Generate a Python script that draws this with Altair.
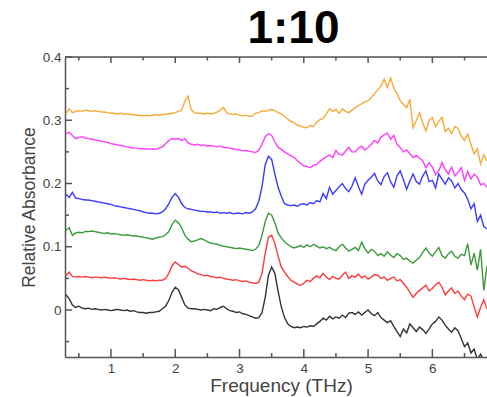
import altair as alt
import pandas as pd

freq = [
    0.30, 0.35, 0.40, 0.45, 0.50, 0.55, 0.60, 0.65, 0.70, 0.75,
    0.80, 0.85, 0.90, 0.95, 1.00, 1.05, 1.10, 1.15, 1.20, 1.25,
    1.30, 1.35, 1.40, 1.45, 1.50, 1.55, 1.60, 1.65, 1.70, 1.75,
    1.80, 1.85, 1.90, 1.95, 2.00, 2.05, 2.10, 2.15, 2.20, 2.25,
    2.30, 2.35, 2.40, 2.45, 2.50, 2.55, 2.60, 2.65, 2.70, 2.75,
    2.80, 2.85, 2.90, 2.95, 3.00, 3.05, 3.10, 3.15, 3.20, 3.25,
    3.30, 3.35, 3.40, 3.45, 3.50, 3.55, 3.60, 3.65, 3.70, 3.75,
    3.80, 3.85, 3.90, 3.95, 4.00, 4.05, 4.10, 4.15, 4.20, 4.25,
    4.30, 4.35, 4.40, 4.45, 4.50, 4.55, 4.60, 4.65, 4.70, 4.75,
    4.80, 4.85, 4.90, 4.95, 5.00, 5.05, 5.10, 5.15, 5.20, 5.25,
    5.30, 5.35, 5.40, 5.45, 5.50, 5.55, 5.60, 5.65, 5.70, 5.75,
    5.80, 5.85, 5.90, 5.95, 6.00, 6.05, 6.10, 6.15, 6.20, 6.25,
    6.30, 6.35, 6.40, 6.45, 6.50, 6.55, 6.60, 6.65, 6.70, 6.75,
    6.80, 6.85,
]

black = [
    0.024, 0.018, 0.008, 0.004, 0.006, 0.003, 0.002, 0.003, 0.001, 0.002,
    0.001, 0.000, 0.001, 0.000, -0.001, 0.000, 0.001, 0.000, -0.001, 0.000,
    -0.002, -0.001, -0.003, -0.004, -0.004, -0.005, -0.004, -0.004, -0.003, -0.002,
    0.002, 0.006, 0.015, 0.028, 0.036, 0.032, 0.020, 0.008, 0.003, 0.002,
    0.002, 0.001, 0.000, 0.001, 0.000, -0.001, 0.002, 0.001, 0.004, 0.006,
    0.002, -0.001, -0.002, -0.004, -0.003, -0.006, -0.007, -0.009, -0.011, -0.013,
    -0.012, -0.004, 0.020, 0.055, 0.068, 0.058, 0.030, 0.005, -0.012, -0.022,
    -0.026, -0.028, -0.027, -0.028, -0.026, -0.027, -0.025, -0.026, -0.022, -0.018,
    -0.013, -0.016, -0.010, -0.014, -0.011, -0.013, -0.008, -0.012, -0.005, -0.004,
    -0.007, -0.003, -0.008, -0.004, 0.000, -0.006, -0.009, -0.004, -0.012, -0.016,
    -0.020, -0.017, -0.026, -0.034, -0.042, -0.030, -0.036, -0.022, -0.028, -0.034,
    -0.027, -0.031, -0.037, -0.030, -0.022, -0.018, -0.011, -0.016, -0.024, -0.030,
    -0.035, -0.028, -0.033, -0.045, -0.058, -0.052, -0.068, -0.062, -0.078, -0.070,
    -0.080, -0.076,
]

red = [
    0.054, 0.060, 0.053, 0.052, 0.053, 0.052, 0.053, 0.052, 0.051, 0.052,
    0.052, 0.051, 0.052, 0.051, 0.050, 0.051, 0.050, 0.049, 0.050, 0.049,
    0.048, 0.049, 0.048, 0.047, 0.048, 0.047, 0.046, 0.047, 0.046, 0.047,
    0.047, 0.050, 0.058, 0.070, 0.076, 0.072, 0.068, 0.069, 0.066, 0.062,
    0.060, 0.057, 0.056, 0.054, 0.055, 0.053, 0.052, 0.051, 0.052, 0.050,
    0.049, 0.048, 0.047, 0.048, 0.046, 0.045, 0.046, 0.044, 0.043, 0.042,
    0.044, 0.058, 0.090, 0.115, 0.118, 0.105, 0.085, 0.068, 0.060, 0.053,
    0.047, 0.044, 0.041, 0.039, 0.042, 0.047, 0.045, 0.050, 0.054, 0.051,
    0.058, 0.052, 0.048, 0.053, 0.050, 0.049, 0.055, 0.060, 0.050, 0.054,
    0.052, 0.057, 0.051, 0.054, 0.049, 0.052, 0.056, 0.055, 0.050, 0.052,
    0.047, 0.050, 0.052, 0.046, 0.048, 0.042, 0.036, 0.028, 0.020, 0.026,
    0.031, 0.035, 0.039, 0.030, 0.034, 0.040, 0.044, 0.036, 0.024, 0.030,
    0.035, 0.026, 0.030, 0.022, 0.016, 0.025, 0.022, 0.005, -0.011, 0.004,
    0.016, 0.002,
]

green = [
    0.126, 0.130, 0.118, 0.122, 0.123, 0.122, 0.124, 0.124, 0.125, 0.124,
    0.123, 0.122, 0.121, 0.122, 0.120, 0.121, 0.120, 0.119, 0.118, 0.119,
    0.118, 0.117, 0.117, 0.116, 0.115, 0.114, 0.113, 0.112, 0.114, 0.115,
    0.116, 0.119, 0.124, 0.135, 0.142, 0.138, 0.130, 0.118, 0.112, 0.108,
    0.109, 0.111, 0.113, 0.111, 0.108, 0.106, 0.105, 0.104, 0.102, 0.101,
    0.100, 0.099, 0.098, 0.097, 0.098, 0.097, 0.096, 0.095, 0.094, 0.096,
    0.102, 0.118, 0.140, 0.153, 0.150, 0.138, 0.122, 0.114, 0.108, 0.104,
    0.100, 0.098, 0.100, 0.102, 0.099, 0.103, 0.100, 0.104, 0.101, 0.098,
    0.100, 0.097, 0.099, 0.096, 0.094, 0.100, 0.104, 0.098, 0.093, 0.096,
    0.099, 0.094, 0.107, 0.097, 0.090, 0.096, 0.093, 0.086, 0.089, 0.085,
    0.092, 0.087, 0.083, 0.089, 0.086, 0.080, 0.082, 0.077, 0.074, 0.079,
    0.083, 0.091, 0.098, 0.090, 0.085, 0.092, 0.099, 0.086, 0.082, 0.089,
    0.093, 0.085, 0.082, 0.088, 0.086, 0.105, 0.071, 0.090, 0.063, 0.096,
    0.031, 0.070,
]

blue = [
    0.183, 0.178, 0.186, 0.177, 0.176, 0.175, 0.174, 0.174, 0.173, 0.172,
    0.171, 0.170, 0.169, 0.168, 0.167, 0.165, 0.164, 0.163, 0.162, 0.161,
    0.160, 0.159, 0.158, 0.157, 0.155, 0.154, 0.153, 0.153, 0.152, 0.153,
    0.155, 0.160, 0.168, 0.178, 0.184, 0.178, 0.168, 0.162, 0.160, 0.159,
    0.158, 0.157, 0.156, 0.156, 0.155, 0.155, 0.154, 0.155, 0.153, 0.154,
    0.153, 0.154, 0.152, 0.153, 0.153, 0.152, 0.154, 0.153, 0.155, 0.160,
    0.172, 0.195, 0.230, 0.243, 0.238, 0.215, 0.194, 0.180, 0.168, 0.166,
    0.165, 0.166, 0.164, 0.167, 0.168, 0.166, 0.170, 0.168, 0.173, 0.171,
    0.184, 0.176, 0.194, 0.183, 0.189, 0.195, 0.200, 0.192, 0.187, 0.196,
    0.209, 0.195, 0.183, 0.199, 0.205, 0.210, 0.216, 0.204, 0.198, 0.211,
    0.217, 0.203, 0.194, 0.212, 0.220, 0.206, 0.191, 0.204, 0.215, 0.203,
    0.199, 0.212, 0.220, 0.203, 0.205, 0.193, 0.215, 0.207, 0.199, 0.209,
    0.204, 0.193, 0.200, 0.190, 0.185, 0.175, 0.160, 0.168, 0.140, 0.150,
    0.132, 0.128,
]

magenta = [
    0.279, 0.281, 0.276, 0.271, 0.273, 0.274, 0.272, 0.271, 0.270, 0.269,
    0.268, 0.267, 0.266, 0.265, 0.263, 0.262, 0.261, 0.260, 0.259, 0.258,
    0.257, 0.256, 0.256, 0.255, 0.255, 0.255, 0.254, 0.255, 0.254, 0.256,
    0.258, 0.263, 0.268, 0.271, 0.270, 0.271, 0.268, 0.271, 0.264, 0.262,
    0.261, 0.262, 0.260, 0.261, 0.259, 0.260, 0.259, 0.258, 0.259, 0.257,
    0.257, 0.256, 0.255, 0.254, 0.253, 0.252, 0.252, 0.251, 0.250, 0.249,
    0.253, 0.262, 0.274, 0.279, 0.276, 0.266, 0.257, 0.254, 0.250, 0.247,
    0.244, 0.241, 0.236, 0.232, 0.228, 0.227, 0.225, 0.229, 0.230, 0.235,
    0.239, 0.242, 0.245, 0.241, 0.252, 0.246, 0.245, 0.251, 0.257, 0.250,
    0.250, 0.256, 0.259, 0.253, 0.257, 0.262, 0.268, 0.264, 0.273, 0.277,
    0.280, 0.270, 0.276, 0.262, 0.257, 0.250, 0.253, 0.247, 0.241, 0.244,
    0.240, 0.236, 0.225, 0.233, 0.226, 0.214, 0.220, 0.233, 0.222, 0.215,
    0.226, 0.212, 0.218, 0.225, 0.205, 0.219, 0.207, 0.215, 0.210, 0.198,
    0.200, 0.194,
]

orange = [
    0.310, 0.318, 0.312, 0.314, 0.315, 0.314, 0.316, 0.315, 0.314, 0.315,
    0.314, 0.313, 0.313, 0.312, 0.311, 0.311, 0.310, 0.311, 0.310, 0.310,
    0.309, 0.309, 0.308, 0.308, 0.307, 0.308, 0.307, 0.308, 0.309, 0.308,
    0.309, 0.310, 0.310, 0.311, 0.312, 0.314, 0.316, 0.330, 0.338, 0.316,
    0.312, 0.311, 0.311, 0.310, 0.311, 0.310, 0.311, 0.313, 0.316, 0.320,
    0.312, 0.310, 0.309, 0.310, 0.308, 0.307, 0.308, 0.306, 0.307, 0.311,
    0.312, 0.315, 0.314, 0.316, 0.317, 0.315, 0.312, 0.310, 0.306, 0.302,
    0.298, 0.296, 0.292, 0.291, 0.289, 0.288, 0.292, 0.290, 0.297, 0.301,
    0.303, 0.310, 0.318, 0.314, 0.317, 0.311, 0.318, 0.314, 0.312, 0.316,
    0.320, 0.323, 0.326, 0.329, 0.331, 0.336, 0.342, 0.348, 0.354, 0.365,
    0.352, 0.367, 0.351, 0.342, 0.331, 0.325, 0.320, 0.333, 0.288, 0.300,
    0.312, 0.296, 0.283, 0.300, 0.304, 0.290, 0.298, 0.305, 0.282, 0.287,
    0.279, 0.290, 0.287, 0.275, 0.268, 0.278, 0.262, 0.247, 0.255, 0.231,
    0.245, 0.236,
]

series_names = ["black", "red", "green", "blue", "magenta", "orange"]
series_values = [black, red, green, blue, magenta, orange]
series_colors = ["#333333", "#ff3b3b", "#3a9a3a", "#3b3bff", "#ff3dff", "#f8aa38"]

x_major = [1, 2, 3, 4, 5, 6]
x_minor = [0.5, 1.5, 2.5, 3.5, 4.5, 5.5, 6.5]
y_major = [0, 0.1, 0.2, 0.3, 0.4]
y_minor = [-0.05, 0.05, 0.15, 0.25, 0.35]
chart_title = "1:10"

rows = []
for name, vals in zip(series_names, series_values):
    assert len(vals) == len(freq), name
    for f, v in zip(freq, vals):
        rows.append({"freq": f, "absorb": v, "series": name})
df = pd.DataFrame(rows)

W, H = 422, 300
AXIS_COLOR = "#555555"
FONT = "Liberation Sans"

xenc = alt.X(
    "freq:Q",
    scale=alt.Scale(domain=[0.285, 6.85], nice=False, zero=False),
    axis=alt.Axis(
        values=x_major, format="d", ticks=False, grid=False,
        domainColor=AXIS_COLOR, domainWidth=1.5,
        labelFontSize=13.5, labelColor="#444444", labelPadding=4, labelFont=FONT,
        title="Frequency (THz)", titleFontSize=19, titleFontWeight="normal",
        titleColor="#444444", titleFont=FONT,
        titleX=216, titleY=34, titleBaseline="alphabetic",
    ),
)
yenc = alt.Y(
    "absorb:Q",
    scale=alt.Scale(domain=[-0.0743, 0.4], nice=False, zero=False),
    axis=alt.Axis(
        values=y_major, format="~g", ticks=False, grid=False,
        domainColor=AXIS_COLOR, domainWidth=1.5,
        labelFontSize=13.5, labelColor="#444444", labelPadding=4, labelFont=FONT,
        title="Relative Absorbance", titleFontSize=17.5, titleFontWeight="normal",
        titleColor="#444444", titleFont=FONT,
        titleX=-36, titleY=150, titleBaseline="middle", titleAlign="center",
    ),
)

lines = alt.Chart(df).mark_line(strokeWidth=1.4, clip=True).encode(
    x=xenc,
    y=yenc,
    color=alt.Color("series:N", scale=alt.Scale(domain=series_names, range=series_colors), legend=None),
    detail="series:N",
)

xmaj_df = pd.DataFrame({"freq": x_major})
xmin_df = pd.DataFrame({"freq": x_minor})
ymaj_df = pd.DataFrame({"absorb": y_major})
ymin_df = pd.DataFrame({"absorb": y_minor})
title_df = pd.DataFrame({"label": [chart_title]})

rule_style = dict(color=AXIS_COLOR, strokeWidth=1.5)

bot_major = alt.Chart(xmaj_df).mark_rule(**rule_style).encode(x=xenc, y=alt.value(H), y2=alt.value(H - 8))
bot_minor = alt.Chart(xmin_df).mark_rule(**rule_style).encode(x=xenc, y=alt.value(H), y2=alt.value(H - 4))
top_major = alt.Chart(xmaj_df).mark_rule(**rule_style).encode(x=xenc, y=alt.value(0), y2=alt.value(6))
top_minor = alt.Chart(xmin_df).mark_rule(**rule_style).encode(x=xenc, y=alt.value(0), y2=alt.value(3.5))
left_major = alt.Chart(ymaj_df).mark_rule(**rule_style).encode(y=yenc, x=alt.value(0), x2=alt.value(7))
left_minor = alt.Chart(ymin_df).mark_rule(**rule_style).encode(y=yenc, x=alt.value(0), x2=alt.value(4))
top_border = alt.Chart(xmaj_df.head(1)).mark_rule(**rule_style).encode(
    x=alt.value(0), x2=alt.value(W), y=alt.value(0)
)
title_text = alt.Chart(title_df).mark_text(
    fontSize=46, fontWeight="bold", font=FONT, color="#000000",
    align="center", baseline="alphabetic",
).encode(text="label:N", x=alt.value(228.5), y=alt.value(-14))

chart = alt.layer(
    lines, bot_major, bot_minor, top_major, top_minor, left_major, left_minor, top_border, title_text
).properties(
    width=W,
    height=H,
    autosize=alt.AutoSizeParams(type="none"),
    padding={"left": 65, "top": 57, "right": 0, "bottom": 40},
).configure_view(stroke=None).configure(background="white")

chart.save("out.html", embed_options={"renderer": "svg", "actions": False})
